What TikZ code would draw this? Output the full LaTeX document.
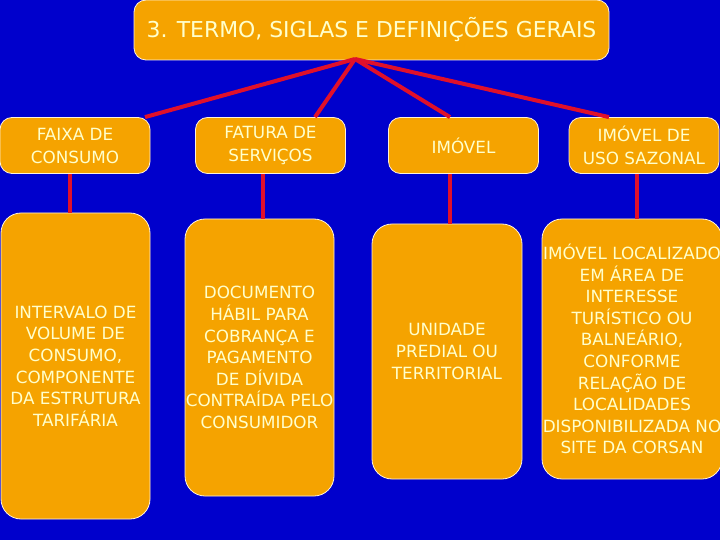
\documentclass[tikz,border=0pt]{standalone}
\usepackage{fontspec}
\setmainfont{DejaVu Sans}
\usetikzlibrary{calc}
\definecolor{bgblue}{HTML}{0000CC}
\definecolor{boxor}{HTML}{F5A300}
\definecolor{txt}{HTML}{FFFFCC}
\definecolor{linkred}{HTML}{E0102A}
\tikzset{
  termbox/.style={draw=white!85!boxor, line width=0.8pt, fill=boxor, rounded corners=12pt,
    text=txt, align=center, inner sep=0pt,
    font=\fontsize{16.8}{23}\selectfont},
  defbox/.style={termbox, rounded corners=20pt, font=\fontsize{16.8}{21.6}\selectfont},
  link/.style={draw=linkred, line width=4pt}
}
\begin{document}
\begin{tikzpicture}[x=1pt,y=-1pt]
\fill[bgblue] (0,0) rectangle (720,540);
\useasboundingbox (0,0) rectangle (720,540);

\node[termbox, minimum width=475pt, minimum height=60pt, font=\fontsize{21.9}{26}\selectfont]
  (title) at (371.5,30) {3. TERMO, SIGLAS E DEFINIÇÕES GERAIS};

\node[termbox, minimum width=150pt, minimum height=56pt] (f1) at (75,145.5) {FAIXA DE\\CONSUMO};
\node[termbox, minimum width=150pt, minimum height=56pt] (f2) at (270.5,145.5) {FATURA DE\\SERVIÇOS};
\node[termbox, minimum width=150pt, minimum height=56pt] (f3) at (463.5,145.5) {IMÓVEL};
\node[termbox, minimum width=150pt, minimum height=56pt] (f4) at (644,145.5) {IMÓVEL DE\\USO SAZONAL};

\node[defbox, minimum width=149pt, minimum height=306pt] (l1) at (75.5,366)
  {INTERVALO DE\\VOLUME DE\\CONSUMO,\\COMPONENTE\\DA ESTRUTURA\\TARIFÁRIA};
\node[defbox, minimum width=149pt, minimum height=277pt] (l2) at (259.5,357.5)
  {DOCUMENTO\\HÁBIL PARA\\COBRANÇA E\\PAGAMENTO\\DE DÍVIDA\\CONTRAÍDA PELO\\CONSUMIDOR};
\node[defbox, minimum width=150pt, minimum height=255pt] (l3) at (447,351.5)
  {UNIDADE\\PREDIAL OU\\TERRITORIAL};
\node[defbox, minimum width=180pt, minimum height=260pt] (l4) at (632,349)
  {IMÓVEL LOCALIZADO\\EM ÁREA DE\\INTERESSE\\TURÍSTICO OU\\BALNEÁRIO,\\CONFORME\\RELAÇÃO DE\\LOCALIDADES\\DISPONIBILIZADA NO\\SITE DA CORSAN};

\coordinate (apex) at (355,59);
\coordinate (e1) at ($(f1.north)+(70,0)$);
\coordinate (e2) at ($(f2.north)+(44.5,0)$);
\coordinate (e3) at ($(f3.north)+(-13.5,0)$);
\coordinate (e4) at ($(f4.north)+(-35,0)$);
\foreach \e in {e1,e2,e3,e4} \draw[link] (apex) -- (\e);

\coordinate (d1) at ($(f1.south)+(-5,0)$);
\coordinate (d2) at ($(f2.south)+(-7.5,0)$);
\coordinate (d3) at ($(f3.south)+(-13.5,0)$);
\coordinate (d4) at ($(f4.south)+(-7,0)$);
\draw[link] (d1) -- (d1 |- l1.north);
\draw[link] (d2) -- (d2 |- l2.north);
\draw[link] (d3) -- (d3 |- l3.north);
\draw[link] (d4) -- (d4 |- l4.north);
\end{tikzpicture}
\end{document}
